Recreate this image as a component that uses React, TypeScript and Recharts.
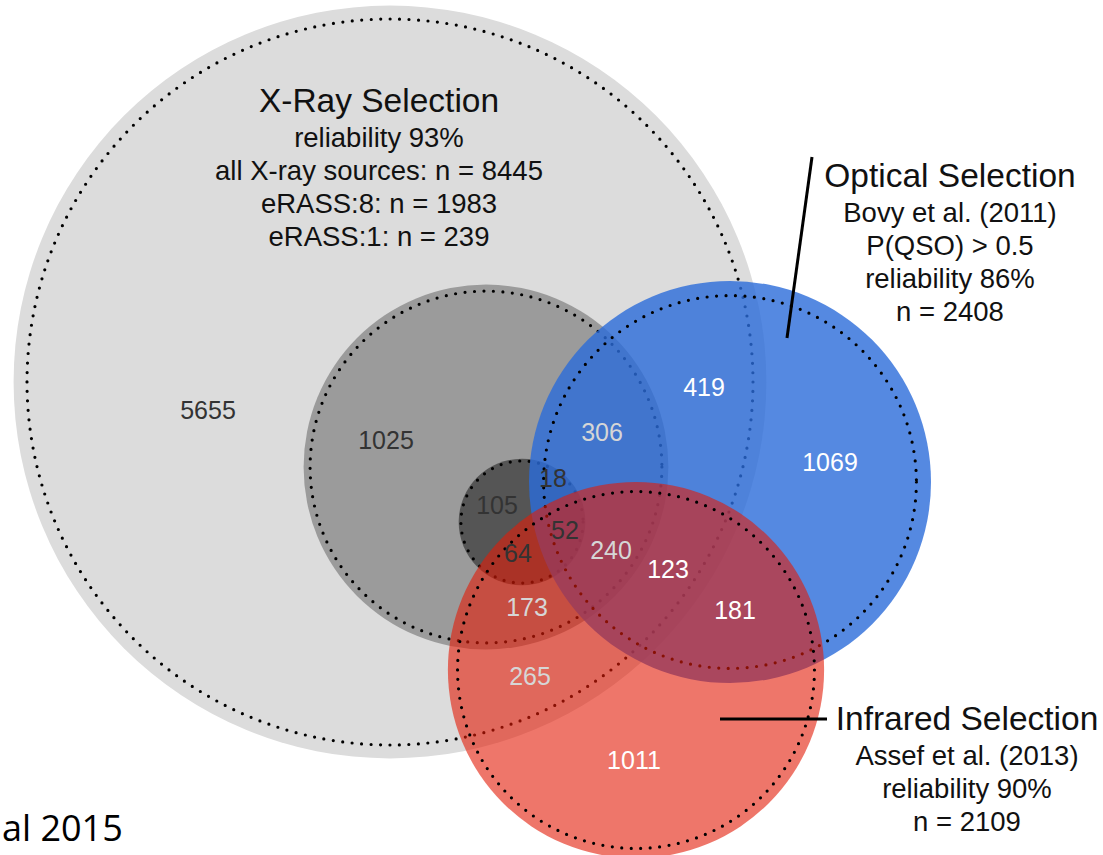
import React from 'react';
import { ScatterChart, Scatter, XAxis, YAxis } from 'recharts';

// ---------- chart frame ----------
const W = 1103;
const H = 855;
const X_DOMAIN: [number, number] = [0, W];
const Y_DOMAIN: [number, number] = [0, H];
const PX_PER_UNIT = W / (X_DOMAIN[1] - X_DOMAIN[0]);
const RADIUS_PER_SQRT_N = 4.096; // circle area proportional to n

// ---------- sets (circles) ----------
const setNames = ['X-ray (all)', 'eRASS:8', 'eRASS:1', 'Optical', 'Infrared'];
const setSizes = [8445, 1983, 239, 2408, 2109];
const setReliability = [0.93, 0.93, 0.93, 0.86, 0.9];
const setCenterX = [390, 486, 522, 730, 636];
const setCenterY = [382, 467, 522, 482, 670];
const setColors = ['#dcdcdc', '#9b9b9b', '#555555', '#2a6bd9', '#e31b07'];
const setOpacity = [1, 1, 1, 0.8, 0.6];

// ---------- region counts ----------
const regionCounts = [5655, 1025, 105, 18, 64, 52, 306, 240, 123, 419, 1069, 181, 173, 265, 1011];
const regionX = [208, 386, 497, 553, 518, 565, 602, 611, 668, 704, 830, 735, 527, 530, 634];
const regionY = [410, 440, 505, 478, 553, 530, 432, 550, 569, 387, 462, 610, 607, 676, 760];
const regionTone = ['dark', 'dark', 'dark', 'dark', 'dark', 'dark', 'light', 'light', 'white', 'white', 'white', 'white', 'light', 'light', 'white'];
const toneColor: Record<string, string> = { dark: '#333333', light: '#d6d6d6', white: '#ffffff' };

// ---------- annotation blocks ----------
const blockTitles = ['X-Ray Selection', 'Optical Selection', 'Infrared Selection'];
const blockLines = [
  ['reliability 93%', 'all X-ray sources: n = 8445', 'eRASS:8: n = 1983', 'eRASS:1: n = 239'],
  ['Bovy et al. (2011)', 'P(QSO) > 0.5', 'reliability 86%', 'n = 2408'],
  ['Assef et al. (2013)', 'reliability 90%', 'n = 2109'],
];
const blockX = [379, 950, 967];
const blockY = [100, 175, 718];

const leaderLines = [
  [{ x: 812, y: 157 }, { x: 787, y: 338 }],
  [{ x: 720, y: 719 }, { x: 827, y: 719 }],
];

const FONT = '"Liberation Sans", Arial, Helvetica, sans-serif';

const setData = setNames.map((name, i) => ({
  name,
  x: setCenterX[i],
  y: setCenterY[i],
  r: RADIUS_PER_SQRT_N * Math.sqrt(setSizes[i]),
  rr: RADIUS_PER_SQRT_N * Math.sqrt(setSizes[i] * setReliability[i]),
  fill: setColors[i],
  opacity: setOpacity[i],
}));

const regionData = regionCounts.map((v, i) => ({
  x: regionX[i],
  y: regionY[i],
  label: String(v),
  color: toneColor[regionTone[i]],
}));

const blockData = blockTitles.map((t, i) => ({
  x: blockX[i],
  y: blockY[i],
  title: t,
  lines: blockLines[i],
}));

const SetShape = (props: any) => {
  const { cx, cy, payload } = props;
  if (cx == null || cy == null) return null;
  const r = payload.r * PX_PER_UNIT;
  const rr = payload.rr * PX_PER_UNIT;
  return (
    <g>
      <circle cx={cx} cy={cy} r={r} fill={payload.fill} fillOpacity={payload.opacity} />
      <circle
        cx={cx}
        cy={cy}
        r={rr}
        fill="none"
        stroke="#000"
        strokeWidth={3.2}
        strokeDasharray="0 9.5"
        strokeLinecap="round"
      />
    </g>
  );
};

const RegionLabel = (props: any) => {
  const { cx, cy, payload } = props;
  if (cx == null || cy == null) return null;
  return (
    <text
      x={cx}
      y={cy}
      textAnchor="middle"
      dominantBaseline="central"
      fontFamily={FONT}
      fontSize={25}
      fill={payload.color}
    >
      {payload.label}
    </text>
  );
};

const BlockShape = (props: any) => {
  const { cx, cy, payload } = props;
  if (cx == null || cy == null) return null;
  return (
    <g fontFamily={FONT} fill="#111" textAnchor="middle">
      <text x={cx} y={cy} dominantBaseline="central" fontSize={33.5}>
        {payload.title}
      </text>
      {payload.lines.map((l: string, i: number) => (
        <text key={i} x={cx} y={cy + 37 + i * 33} dominantBaseline="central" fontSize={27.5}>
          {l}
        </text>
      ))}
    </g>
  );
};

const FootShape = (props: any) => {
  const { cx, cy } = props;
  if (cx == null || cy == null) return null;
  return (
    <text x={cx} y={cy} fontFamily='"Open Sans", sans-serif' fontSize={36} fill="#000">
      al 2015
    </text>
  );
};

const NoDot = () => null;

const footData = [{ x: 2, y: 841 }];

export default function App() {
  return (
    <div style={{ position: 'absolute', left: 0, top: 0, width: W, height: H, background: '#fff' }}>
      <ScatterChart width={W} height={H} margin={{ top: 0, right: 0, bottom: 0, left: 0 }}>
        <XAxis type="number" dataKey="x" domain={X_DOMAIN} allowDataOverflow hide />
        <YAxis type="number" dataKey="y" domain={Y_DOMAIN} allowDataOverflow reversed hide />
        <Scatter data={setData} shape={SetShape} isAnimationActive={false} />
        <Scatter data={regionData} shape={RegionLabel} isAnimationActive={false} />
        {leaderLines.map((seg, i) => (
          <Scatter
            key={`lead-${i}`}
            data={seg}
            shape={NoDot}
            line={{ stroke: '#000', strokeWidth: 3 }}
            isAnimationActive={false}
          />
        ))}
        <Scatter data={blockData} shape={BlockShape} isAnimationActive={false} />
        <Scatter data={footData} shape={FootShape} isAnimationActive={false} />
      </ScatterChart>
    </div>
  );
}
